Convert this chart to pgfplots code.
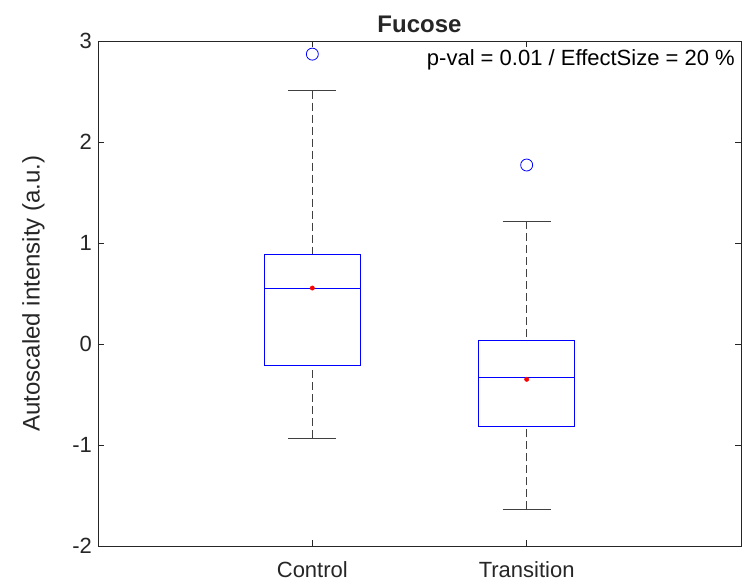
\documentclass[border=0pt]{standalone}
\usepackage{fontspec}
\setmainfont{Liberation Sans}
\usepackage{pgfplots}
\pgfplotsset{compat=1.18}
\usepgfplotslibrary{statistics}
\definecolor{mblue}{RGB}{0,0,255}
\definecolor{axgray}{RGB}{38,38,38}
\begin{document}
\begin{tikzpicture}
\begin{axis}[
  name=ax,
  at={(0,0)}, anchor=south west,
  scale only axis,
  width=482.25pt, height=378.75pt,
  xmin=0, xmax=3, ymin=-2, ymax=3,
  xtick={1,2}, xticklabels={Control,Transition},
  ytick={-2,-1,0,1,2,3},
  tick align=inside,
  major tick length=4.5pt,
  axis line style={axgray, line width=0.6pt},
  every tick/.style={axgray, line width=0.6pt},
  tick label style={font=\fontsize{16.5pt}{19pt}\selectfont, text=axgray},
  /pgf/number format/assume math mode=true,
  xticklabel style={yshift=-8pt},
  yticklabel style={xshift=-1pt},
  ylabel={Autoscaled intensity (a.u.)},
  ylabel style={font=\fontsize{18pt}{21pt}\selectfont, text=axgray, yshift=14pt},
  title={\textbf{Fucose}},
  title style={font=\fontsize{18pt}{21pt}\selectfont, text=axgray, yshift=-3pt},
  boxplot/draw direction=y,
  boxplot/box extend=0.45,
  boxplot/whisker extend=0.225,
  boxplot/draw/box/.code={%
    \draw[mblue, line width=0.6pt]
      (boxplot box cs:\pgfplotsboxplotvalue{lower quartile},0) rectangle
      (boxplot box cs:\pgfplotsboxplotvalue{upper quartile},1);
  },
  boxplot/draw/median/.code={%
    \draw[mblue, line width=0.6pt]
      (boxplot box cs:\pgfplotsboxplotvalue{median},0) --
      (boxplot box cs:\pgfplotsboxplotvalue{median},1);
  },
  boxplot/draw/lower whisker/.code={%
    \draw[black!75, dashed, dash pattern=on 6pt off 3pt, line width=0.6pt]
      (boxplot box cs:\pgfplotsboxplotvalue{lower whisker},0.5) --
      (boxplot box cs:\pgfplotsboxplotvalue{lower quartile},0.5);
    \draw[black!75, line width=0.6pt]
      (boxplot whisker cs:\pgfplotsboxplotvalue{lower whisker},0) --
      (boxplot whisker cs:\pgfplotsboxplotvalue{lower whisker},1);
  },
  boxplot/draw/upper whisker/.code={%
    \draw[black!75, dashed, dash pattern=on 6pt off 3pt, line width=0.6pt]
      (boxplot box cs:\pgfplotsboxplotvalue{upper whisker},0.5) --
      (boxplot box cs:\pgfplotsboxplotvalue{upper quartile},0.5);
    \draw[black!75, line width=0.6pt]
      (boxplot whisker cs:\pgfplotsboxplotvalue{upper whisker},0) --
      (boxplot whisker cs:\pgfplotsboxplotvalue{upper whisker},1);
  },
]
\addplot[mblue, line width=0.6pt, boxplot prepared={
  draw position=1,
  lower whisker=-0.93, lower quartile=-0.211,
  median=0.548,
  upper quartile=0.888, upper whisker=2.508}]
  coordinates {};
\addplot[mblue, line width=0.6pt, boxplot prepared={
  draw position=2,
  lower whisker=-1.634, lower quartile=-0.815,
  median=-0.334,
  upper quartile=0.033, upper whisker=1.215}]
  coordinates {};
\addplot[only marks, mark=o, mark size=4.5pt, mblue, line width=0.6pt]
  coordinates {(1,2.87) (2,1.772)};
\addplot[only marks, mark=*, mark size=1.6pt, red, mark options={fill=red, draw=red}]
  coordinates {(1,0.554) (2,-0.35)};
\node[anchor=east, font=\fontsize{16.5pt}{19pt}\selectfont, text=black, inner sep=0pt]
  at (rel axis cs:1,1) [xshift=-4.5pt, yshift=-14pt] {p-val = 0.01 / EffectSize = 20 \%};
\end{axis}
\pgfresetboundingbox
\path[use as bounding box] (-73.5pt,-26.25pt) rectangle (483.75pt,409.5pt);
\end{tikzpicture}
\end{document}
